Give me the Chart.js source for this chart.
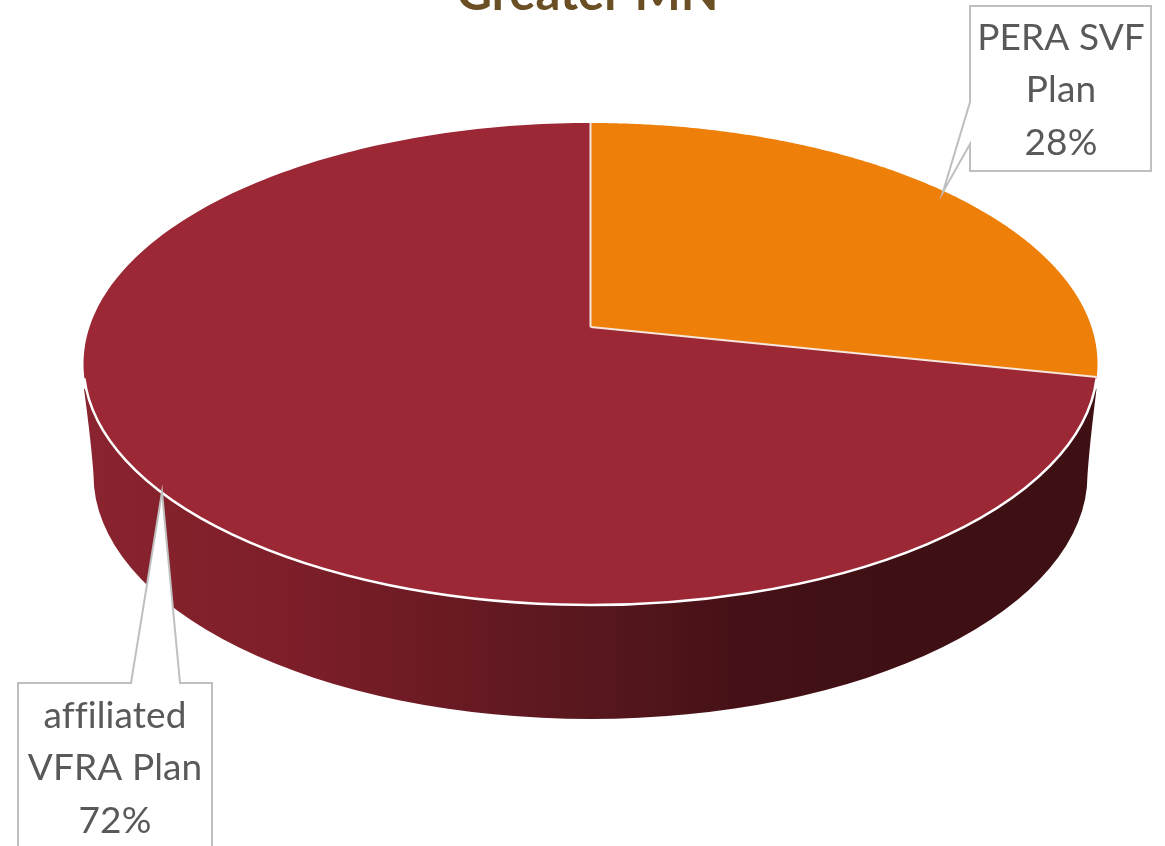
<!DOCTYPE html>
<html><head><meta charset="utf-8">
<style>html,body{margin:0;padding:0;background:#fff;overflow:hidden;width:1165px;height:846px}
canvas{position:absolute;left:0;top:-60px}</style>
<script src="https://cdn.jsdelivr.net/npm/chart.js@4/dist/chart.umd.js"></script>
</head><body><canvas id="c" width="1175" height="920" style="width:1175px;height:920px"></canvas>
<script>
const titleText = 'Greater MN';
const categories = ['PERA SVF Plan', 'affiliated VFRA Plan'];
const shares = [28.3, 71.7];
const sliceColors = ['#EE7F08', '#9C2735'];
const labelLines = [['PERA SVF', 'Plan'], ['affiliated', 'VFRA Plan']];

const OFF = 60;
const E = {cx: 590.5, cy: 364 + OFF, a: 507, b: 241, c: -37 / 241};
const B = {cy: 475 + OFF, a: 497, b: 244};
const boxes = [
  {l: 970, t: 6, r: 1151, b: 171, wedge: [[970, 102], [943, 192], [970, 144]], side: 'left', tx: 1061, ty: [38, 90, 143]},
  {l: 18, t: 683, r: 212, b: 870, wedge: [[131, 683], [162, 492], [180, 683]], side: 'top', tx: 115, ty: [716, 768, 821]}
];
function project(al) {
  const u = Math.cos(al), v = Math.sin(al), d = 1 + E.c * v;
  return [E.cx + E.a * Math.sqrt(1 - E.c * E.c) * u / d, E.cy + E.b * (v + E.c) / d];
}
const pie3d = {
  id: 'pie3d',
  beforeDatasetDraw(chart, args) {
    const ctx = chart.ctx, arcs = chart.getDatasetMeta(args.index).data;
    ctx.save();
    // side wall
    const g = ctx.createLinearGradient(83, 0, 1097, 0);
    [[0, '#8A2430'], [0.1, '#83212B'], [0.22, '#7C1E29'], [0.36, '#6A1A23'], [0.5, '#58171E'], [0.65, '#451116'], [0.8, '#3E1014'], [1, '#3E1014']]
      .forEach(s => g.addColorStop(s[0], s[1]));
    ctx.beginPath();
    ctx.moveTo(E.cx - E.a + 0.5, E.cy + 25);
    ctx.quadraticCurveTo(E.cx - B.a - 2, B.cy - 30, E.cx - B.a, B.cy);
    ctx.ellipse(E.cx, B.cy, B.a, B.b, 0, Math.PI, 0, true);
    ctx.quadraticCurveTo(E.cx + B.a + 2, B.cy - 30, E.cx + E.a - 1, E.cy + 25);
    ctx.ellipse(E.cx, E.cy, E.a, E.b, 0, 0.1, Math.PI - 0.1, false);
    ctx.closePath();
    ctx.fillStyle = g;
    ctx.fill();
    // top face, from the library's arc angles
    arcs.forEach(arc => {
      const o = arc.options, p = arc.getProps(['startAngle', 'endAngle'], true);
      ctx.beginPath();
      ctx.moveTo(E.cx, E.cy + E.b * E.c);
      const n = 240;
      for (let i = 0; i <= n; i++) {
        const q = project(p.startAngle + (p.endAngle - p.startAngle) * i / n);
        ctx.lineTo(q[0], q[1]);
      }
      ctx.closePath();
      ctx.fillStyle = o.backgroundColor;
      ctx.fill();
    });
    arcs.forEach(arc => {
      const p = arc.getProps(['startAngle', 'endAngle'], true);
      ctx.beginPath();
      const q0 = project(p.startAngle);
      ctx.moveTo(q0[0], q0[1]);
      ctx.lineTo(E.cx, E.cy + E.b * E.c);
      ctx.strokeStyle = '#F6E6DC';
      ctx.lineWidth = 2;
      ctx.stroke();
    });
    // rim highlight on the front
    ctx.beginPath();
    ctx.ellipse(E.cx, E.cy, E.a, E.b, 0, 0.06, Math.PI - 0.06, false);
    ctx.strokeStyle = '#FFFFFF';
    ctx.lineWidth = 2.5;
    ctx.stroke();
    ctx.restore();
    return false;
  },
  afterDraw(chart) {
    const ctx = chart.ctx, ds = chart.data.datasets[0].data;
    const total = ds.reduce((x, y) => x + y, 0);
    ctx.save();
    boxes.forEach((bx, i) => {
      ctx.beginPath();
      ctx.moveTo(bx.l, bx.t + OFF);
      if (bx.side === 'top') bx.wedge.forEach(w => ctx.lineTo(w[0], w[1] + OFF));
      ctx.lineTo(bx.r, bx.t + OFF);
      ctx.lineTo(bx.r, bx.b + OFF);
      ctx.lineTo(bx.l, bx.b + OFF);
      if (bx.side === 'left') bx.wedge.slice().reverse().forEach(w => ctx.lineTo(w[0], w[1] + OFF));
      ctx.closePath();
      ctx.fillStyle = '#FFFFFF';
      ctx.fill();
      ctx.strokeStyle = '#BFBFBF';
      ctx.lineWidth = 2;
      ctx.lineJoin = 'miter';
      ctx.stroke();
      const lines = labelLines[i].concat(Math.round(ds[i] / total * 100) + '%');
      ctx.fillStyle = '#595959';
      ctx.font = '37px Lato';
      ctx.letterSpacing = '0.1px';
      ctx.textAlign = 'center';
      ctx.textBaseline = 'middle';
      lines.forEach((t, k) => ctx.fillText(t, bx.tx, bx.ty[k] + OFF));
    });
    ctx.restore();
  }
};
new Chart(document.getElementById('c'), {
  type: 'pie',
  data: {labels: categories, datasets: [{data: shares, backgroundColor: sliceColors, borderColor: '#FFFFFF', borderWidth: 1}]},
  plugins: [pie3d],
  options: {
    responsive: false,
    animation: false,
    layout: {padding: 0},
    plugins: {
      legend: {display: false},
      tooltip: {enabled: false},
      title: {display: true, text: titleText, color: '#6A4E24', font: {family: 'Lato', size: 49, weight: 'bold', lineHeight: 1.2}, padding: {top: 25, bottom: 0}}
    }
  }
});
</script></body></html>
